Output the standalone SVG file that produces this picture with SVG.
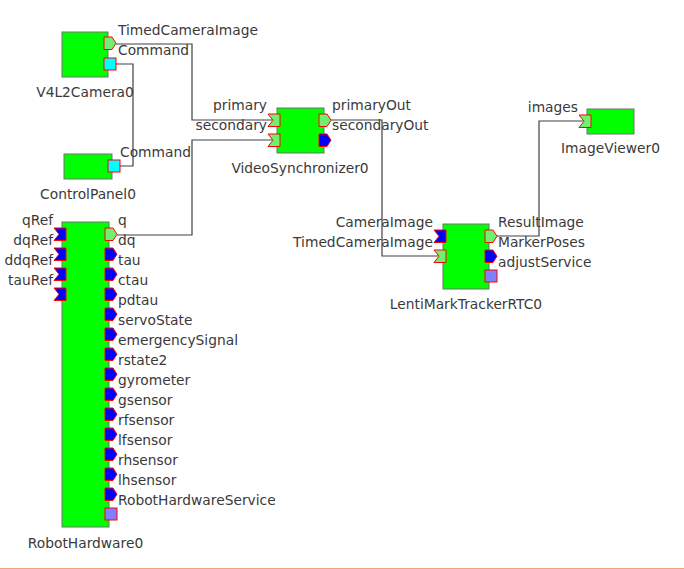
<svg xmlns="http://www.w3.org/2000/svg" width="684" height="569" viewBox="0 0 684 569">
<style>
text{font-family:"DejaVu Sans","Liberation Sans",sans-serif;font-size:13.8px;fill:#3a3a3a}
.e{text-anchor:end}
.m{text-anchor:middle}
.box{fill:#00ff00;stroke:#707070;stroke-width:1}
.pc{fill:#70f070;stroke:#ff0000;stroke-width:1}
.pu{fill:#0000ff;stroke:#ff0000;stroke-width:1}
.sc{fill:#00ffff;stroke:#ff0000;stroke-width:1}
.su{fill:#8080ff;stroke:#ff0000;stroke-width:1}
.cn{fill:none;stroke:#404040;stroke-width:1.2}
</style>
<defs>
<polygon id="ip" points="0,0 12,0 12,12.5 0,12.5 5,6.25"/>
<polygon id="op" points="0,0 8,0 12,6.25 8,12.5 0,12.5"/>
</defs>
<rect width="684" height="569" fill="#ffffff"/>
<g id="connectors">
<path class="cn" d="M116,44 H192 V120 H272"/>
<path class="cn" d="M116,64 H133 V166 H120"/>
<path class="cn" d="M117,235 H192 V140 H272"/>
<path class="cn" d="M331,120 H382 V256 H438"/>
<path class="cn" d="M497,236 H539 V121 H583"/>
</g>
<g id="V4L2Camera0">
<rect class="box" x="62" y="32" width="46" height="45"/>
<use href="#op" class="pc" x="104" y="37"/>
<rect class="sc" x="104" y="58" width="12" height="12"/>
<text x="118" y="35">TimedCameraImage</text>
<text x="118" y="55">Command</text>
<text class="m" x="85" y="97">V4L2Camera0</text>
</g>
<g id="ControlPanel0">
<rect class="box" x="64" y="154" width="48" height="25"/>
<rect class="sc" x="108" y="160" width="12" height="12"/>
<text x="120" y="157">Command</text>
<text class="m" x="88" y="199">ControlPanel0</text>
</g>
<g id="RobotHardware0">
<rect class="box" x="62" y="222" width="47" height="305"/>
<use href="#ip" class="pu" x="54" y="228"/>
<use href="#ip" class="pu" x="54" y="248"/>
<use href="#ip" class="pu" x="54" y="268"/>
<use href="#ip" class="pu" x="54" y="288"/>
<text class="e" x="53" y="225">qRef</text>
<text class="e" x="53" y="245">dqRef</text>
<text class="e" x="53" y="265">ddqRef</text>
<text class="e" x="53" y="285">tauRef</text>
<use href="#op" class="pc" x="105" y="228"/>
<use href="#op" class="pu" x="105" y="248"/>
<use href="#op" class="pu" x="105" y="268"/>
<use href="#op" class="pu" x="105" y="288"/>
<use href="#op" class="pu" x="105" y="308"/>
<use href="#op" class="pu" x="105" y="328"/>
<use href="#op" class="pu" x="105" y="348"/>
<use href="#op" class="pu" x="105" y="368"/>
<use href="#op" class="pu" x="105" y="388"/>
<use href="#op" class="pu" x="105" y="408"/>
<use href="#op" class="pu" x="105" y="428"/>
<use href="#op" class="pu" x="105" y="448"/>
<use href="#op" class="pu" x="105" y="468"/>
<use href="#op" class="pu" x="105" y="488"/>
<rect class="su" x="105" y="508" width="12" height="12"/>
<text x="118" y="225">q</text>
<text x="118" y="245">dq</text>
<text x="118" y="265">tau</text>
<text x="118" y="285">ctau</text>
<text x="118" y="305">pdtau</text>
<text x="118" y="325">servoState</text>
<text x="118" y="345">emergencySignal</text>
<text x="118" y="365">rstate2</text>
<text x="118" y="385">gyrometer</text>
<text x="118" y="405">gsensor</text>
<text x="118" y="425">rfsensor</text>
<text x="118" y="445">lfsensor</text>
<text x="118" y="465">rhsensor</text>
<text x="118" y="485">lhsensor</text>
<text x="118" y="505">RobotHardwareService</text>
<text class="m" x="85.5" y="548">RobotHardware0</text>
</g>
<g id="VideoSynchronizer0">
<rect class="box" x="277" y="108" width="47" height="45"/>
<use href="#ip" class="pc" x="268" y="114"/>
<use href="#ip" class="pc" x="268" y="134"/>
<use href="#op" class="pc" x="319" y="114"/>
<use href="#op" class="pu" x="319" y="134"/>
<text class="e" x="267" y="110">primary</text>
<text class="e" x="267" y="130">secondary</text>
<text x="332" y="110">primaryOut</text>
<text x="332" y="130">secondaryOut</text>
<text class="m" x="300" y="173">VideoSynchronizer0</text>
</g>
<g id="LentiMarkTrackerRTC0">
<rect class="box" x="443" y="224" width="46" height="65"/>
<use href="#ip" class="pu" x="434" y="230"/>
<use href="#ip" class="pc" x="434" y="250"/>
<use href="#op" class="pc" x="485" y="230"/>
<use href="#op" class="pu" x="485" y="250"/>
<rect class="su" x="485" y="270" width="12" height="12"/>
<text class="e" x="433" y="227">CameraImage</text>
<text class="e" x="433" y="247">TimedCameraImage</text>
<text x="498" y="227">ResultImage</text>
<text x="498" y="247">MarkerPoses</text>
<text x="498" y="267">adjustService</text>
<text class="m" x="466" y="309">LentiMarkTrackerRTC0</text>
</g>
<g id="ImageViewer0">
<rect class="box" x="587" y="109" width="47" height="25"/>
<use href="#ip" class="pc" x="579" y="115"/>
<text class="e" x="578" y="112">images</text>
<text class="m" x="610.5" y="153">ImageViewer0</text>
</g>
<line x1="0" y1="568.5" x2="684" y2="568.5" stroke="#f4a270" stroke-width="1"/>
</svg>
